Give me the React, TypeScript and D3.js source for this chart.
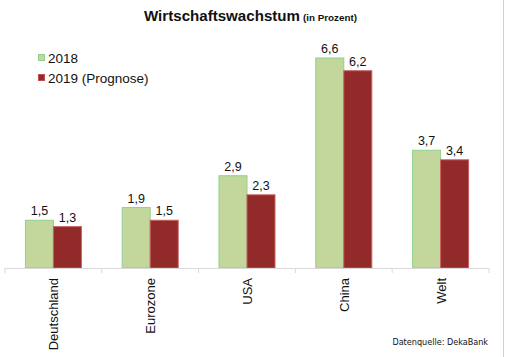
import React from "react";
import * as d3 from "d3";

const categories = ["Deutschland", "Eurozone", "USA", "China", "Welt"];
const series2018 = [1.5, 1.9, 2.9, 6.6, 3.7];
const series2019 = [1.3, 1.5, 2.3, 6.2, 3.4];
const seriesNames = ["2018", "2019 (Prognose)"];

const W = 506, H = 357;
const font = "Liberation Sans, Arial, sans-serif";

export default function App() {
  const x = d3.scaleBand<string>().domain(categories).range([5, 489]);
  const y = d3.scaleLinear().domain([0, 6.6]).range([268, 58]);
  const barW = 28;
  const fmt = (v: number) => v.toFixed(1).replace(".", ",");
  const data = categories.map((c, i) => ({ c, a: series2018[i], b: series2019[i] }));
  const ticks = [...categories.map((c) => x(c)!), 489];
  return (
    <svg width={W} height={H} style={{ position: "absolute", left: 0, top: 0, background: "#fff" }} fontFamily={font}>
      <rect x={0} y={0} width={W} height={H} fill="#fff" />
      <line x1={503.5} x2={503.5} y1={0} y2={H} stroke="#d0d0d0" strokeWidth={1} />
      <text x={144} y={21} fontWeight="bold" fill="#111" fontSize={15.5} textLength={156} lengthAdjust="spacingAndGlyphs">Wirtschaftswachstum</text>
      <text x={303} y={21} fontWeight="bold" fill="#111" fontSize={9.5} textLength={54} lengthAdjust="spacingAndGlyphs">(in Prozent)</text>
      {/* legend */}
      <rect x={38.5} y={54.5} width={6} height={6} fill="#c3d69b" stroke="#8fd18f" />
      <text x={48} y={63} fontSize={13.5} fill="#111">{seriesNames[0]}</text>
      <rect x={38.5} y={74.5} width={6} height={6} fill="#922a2a" stroke="#c05050" />
      <text x={48} y={83} fontSize={13.5} fill="#111">{seriesNames[1]}</text>
      {data.map((d) => {
        const cx = x(d.c)! + x.bandwidth() / 2;
        return (
          <g key={d.c}>
            <rect x={cx - barW} y={y(d.a)} width={barW} height={y(0) - y(d.a)} fill="#c3d69b" stroke="#8fd18f" strokeWidth={1} />
            <rect x={cx} y={y(d.b)} width={barW} height={y(0) - y(d.b)} fill="#922a2a" stroke="#c86060" strokeWidth={1} />
            <text x={cx - barW / 2} y={y(d.a) - 5} textAnchor="middle" fontSize={12.5} fill="#111">{fmt(d.a)}</text>
            <text x={cx + barW / 2} y={y(d.b) - 5} textAnchor="middle" fontSize={12.5} fill="#111">{fmt(d.b)}</text>
            <text transform={`translate(${cx + 5},278) rotate(-90)`} textAnchor="end" fontSize={13} fill="#111">{d.c}</text>
          </g>
        );
      })}
      <line x1={5} x2={489} y1={268.5} y2={268.5} stroke="#d9d9d9" />
      {ticks.map((t, i) => (
        <line key={i} x1={t} x2={t} y1={268} y2={273} stroke="#d9d9d9" />
      ))}
      <text x={488} y={345} textAnchor="end" fontSize={9} fill="#111" fontFamily="DejaVu Sans Condensed, Liberation Sans Narrow, sans-serif">Datenquelle: DekaBank</text>
    </svg>
  );
}
